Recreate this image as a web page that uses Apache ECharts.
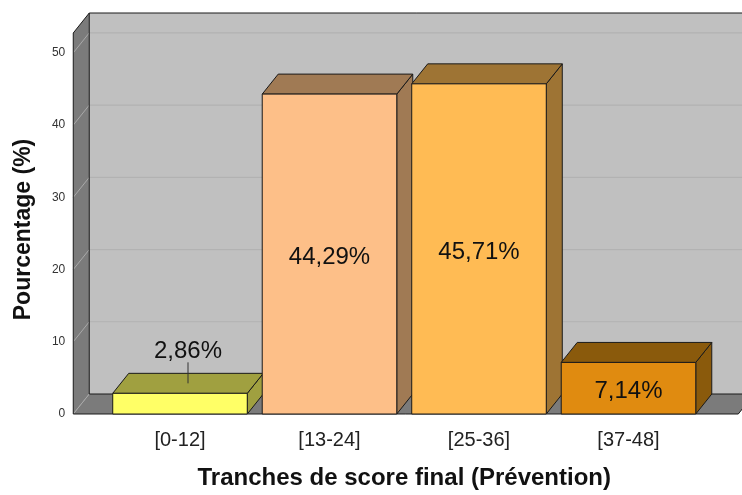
<!DOCTYPE html>
<html>
<head>
<meta charset="utf-8">
<script src="https://cdn.jsdelivr.net/npm/echarts@6/dist/echarts.min.js"></script>
<style>
  html, body { margin: 0; padding: 0; background: #ffffff; }
  #chart { width: 742px; height: 495px; }
</style>
</head>
<body>
<div id="chart"></div>
<script>
// Score bands and the share of respondents in each (%)
const categories = ['[0-12]', '[13-24]', '[25-36]', '[37-48]'];
const percentages = [2.86, 44.29, 45.71, 7.14];
const yTicks = [0, 10, 20, 30, 40, 50];

// Palette: front faces and shaded top/side faces
const frontColors = ['#ffff66', '#fdbf88', '#ffbb54', '#e08b10'];
const shadeColors = ['#a0a040', '#a07a54', '#9e7434', '#8a5a0c'];

const FONT = "'Liberation Sans', Arial, sans-serif";
const DX = 16, DY = 20;          // depth offset of the 3D box
const PAD_L = 32, PAD_R = 35;    // how far the floor/walls extend past the bars' bands
const EDGE = '#1a1a1a';

function fmt(v) { return v.toFixed(2).replace('.', ',') + '%'; }

const chart = echarts.init(document.getElementById('chart'), null, { renderer: 'canvas' });

function renderWalls(params, api) {
  const cs = params.coordSys;
  const x0 = cs.x - PAD_L, x1 = cs.x + cs.width + PAD_R;
  const yBase = api.coord([0, 0])[1];
  const yTop = cs.y;
  const children = [];
  // back wall
  children.push({ type: 'polygon', shape: { points: [[x0 + DX, yTop - DY], [x1 + DX, yTop - DY], [x1 + DX, yBase - DY], [x0 + DX, yBase - DY]] },
    style: { fill: '#c0c0c0', stroke: null } });
  // left side wall
  children.push({ type: 'polygon', shape: { points: [[x0, yTop], [x0 + DX, yTop - DY], [x0 + DX, yBase - DY], [x0, yBase]] },
    style: { fill: '#7b7b7b', stroke: null } });
  // floor
  children.push({ type: 'polygon', shape: { points: [[x0, yBase], [x0 + DX, yBase - DY], [x1 + DX, yBase - DY], [x1, yBase]] },
    style: { fill: '#7b7b7b', stroke: null } });
  // grid lines on back wall and side wall
  yTicks.forEach(function (t) {
    const y = api.coord([0, t])[1];
    if (t > 0) {
      children.push({ type: 'line', shape: { x1: x0 + DX, y1: y - DY, x2: x1 + DX, y2: y - DY },
        style: { stroke: '#b2b2b2', lineWidth: 1.2 } });
    }
    children.push({ type: 'line', shape: { x1: x0, y1: y, x2: x0 + DX, y2: y - DY },
      style: { stroke: '#a9a9a9', lineWidth: 1 } });
  });
  // outline edges
  const edges = [
    [x0, yTop, x0, yBase],
    [x0 + DX, yTop - DY, x0 + DX, yBase - DY],
    [x0, yTop, x0 + DX, yTop - DY],
    [x0 + DX, yTop - DY, x1 + DX, yTop - DY],
    [x0, yBase, x1, yBase],
    [x0 + DX, yBase - DY, x1 + DX, yBase - DY],
    [x1, yBase, x1 + DX, yBase - DY]
  ];
  edges.forEach(function (e) {
    children.push({ type: 'line', shape: { x1: e[0], y1: e[1], x2: e[2], y2: e[3] },
      style: { stroke: EDGE, lineWidth: 1 } });
  });
  return { type: 'group', children: children };
}

function renderBar(params, api) {
  const i = params.dataIndex;
  const v = api.value(1);
  const top = api.coord([i, v]);
  const base = api.coord([i, 0]);
  const w = api.size([1, 0])[0] * 0.9;
  const xl = top[0] - w / 2, xr = top[0] + w / 2;
  const yt = top[1], yb = base[1];
  const edge = { stroke: EDGE, lineWidth: 1 };
  const children = [
    { type: 'polygon', shape: { points: [[xr, yt], [xr + DX, yt - DY], [xr + DX, yb - DY], [xr, yb]] },
      style: Object.assign({ fill: shadeColors[i] }, edge) },
    { type: 'polygon', shape: { points: [[xl, yt], [xl + DX, yt - DY], [xr + DX, yt - DY], [xr, yt]] },
      style: Object.assign({ fill: shadeColors[i] }, edge) },
    { type: 'rect', shape: { x: xl, y: yt, width: w, height: yb - yt },
      style: Object.assign({ fill: frontColors[i] }, edge) }
  ];
  const label = fmt(v);
  if (yb - yt >= 34) {
    children.push({ type: 'text', style: { text: label, x: top[0], y: (yt + yb) / 2 + 3,
      align: 'center', verticalAlign: 'middle', fill: '#111', fontSize: 24, fontFamily: FONT } });
  } else {
    // small bar: label sits above, tied to the top face with a leader line
    const cx = top[0] + DX / 2, cy = yt - DY / 2;
    children.push({ type: 'line', shape: { x1: cx, y1: cy, x2: cx, y2: cy - 21 },
      style: { stroke: '#333', lineWidth: 1 } });
    children.push({ type: 'text', style: { text: label, x: cx, y: cy - 32,
      align: 'center', verticalAlign: 'middle', fill: '#111', fontSize: 24, fontFamily: FONT } });
  }
  return { type: 'group', children: children };
}

chart.setOption({
  animation: false,
  backgroundColor: '#ffffff',
  grid: { left: 105.25, right: 38.75, top: 33, bottom: 78 },
  xAxis: {
    type: 'category',
    data: categories,
    boundaryGap: true,
    axisLine: { show: false },
    axisTick: { show: false },
    axisLabel: { margin: 16, fontSize: 20, color: '#222', fontFamily: FONT },
    name: 'Tranches de score final (Prévention)',
    nameLocation: 'middle',
    nameGap: 52,
    nameTextStyle: { fontSize: 24, fontWeight: 'bold', color: '#111', fontFamily: FONT }
  },
  yAxis: {
    type: 'value',
    min: 0,
    max: 52.75,
    interval: 10,
    axisLine: { show: false },
    axisTick: { show: false },
    splitLine: { show: false },
    axisLabel: {
      margin: 40, fontSize: 12, color: '#333', fontFamily: FONT,
      formatter: function (v) { return yTicks.indexOf(v) >= 0 ? String(v) : ''; }
    },
    name: 'Pourcentage (%)',
    nameLocation: 'middle',
    nameGap: 70,
    nameTextStyle: { fontSize: 23, fontWeight: 'bold', color: '#111', fontFamily: FONT, padding: [0, 12, 0, 0] }
  },
  series: [
    { type: 'custom', name: 'walls', renderItem: renderWalls, data: [[0, 0]], clip: false, z: 1, silent: true },
    { type: 'custom', name: 'Pourcentage', renderItem: renderBar,
      data: percentages.map(function (v, i) { return [i, v]; }), clip: false, z: 2 }
  ]
});
</script>
</body>
</html>
